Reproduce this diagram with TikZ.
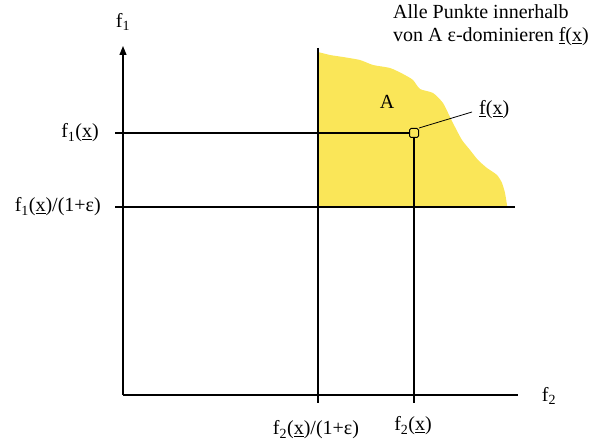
\documentclass[tikz,border=0pt]{standalone}
\usepackage{fontspec}
\setmainfont{Liberation Serif}
\usetikzlibrary{arrows.meta}
\definecolor{regionyellow}{RGB}{250,230,88}
\tikzset{
  lbl/.style={inner sep=0pt,font=\fontsize{20}{23}\selectfont},
  axisline/.style={line width=1.2pt},
  guide/.style={line width=1.1pt},
}
\begin{document}
\begin{tikzpicture}[x=1pt,y=-1pt]
\useasboundingbox (0,0) rectangle (590,444);
% region A
\fill[regionyellow] (318,52) -- plot[smooth,tension=0.4] coordinates {(318,52) (330,55) (343,57) (360,60) (373,65) (390,68) (403,74) (413,80) (420,89) (433,93) (443,103) (450,117) (455,127) (462,140) (470,150) (478,160) (487,168) (497,175) (502,183) (505,193) (507,205)} -- (507,207) -- (318,207) -- cycle;
% coordinates
\coordinate (O) at (123,395);
\coordinate (ytop) at (123,46);
\coordinate (xend) at (518,395);
\coordinate (h1s) at (115,133);
\coordinate (h2s) at (115,207);
\coordinate (h2e) at (515,207);
\coordinate (v1s) at (318,48);
\coordinate (v1e) at (318,403);
\coordinate (v2e) at (414,403);
\coordinate (lead) at (472,112);
% point f(x)
\node[draw,line width=1pt,minimum size=9pt,inner sep=0pt,rounded corners=1.5pt] (fx) at (414,133) {};
% axes
\draw[axisline,-{Triangle[length=9pt,width=7pt]}] (O) -- (ytop);
\draw[axisline] (O) -- (xend);
% guide lines
\draw[guide] (h1s) -- (fx.west);
\draw[guide] (h2s) -- (h2e);
\draw[guide] (v1s) -- (v1e);
\draw[guide] (fx.south) -- (v2e);
\draw[line width=0.8pt] (fx.north east) -- (lead);
% labels
\node[lbl] (lf1) at (123,22) {f\textsubscript{1}};
\node[lbl] (lf2) at (549,396) {f\textsubscript{2}};
\node[lbl] (lA) at (387,102) {A};
\node[lbl,anchor=west] (lfxp) at (479,110) {\underline{f}(\underline{x})};
\node[lbl,anchor=east] (lf1x) at (99,133) {f\textsubscript{1}(\underline{x})};
\node[lbl,anchor=east] (lf1xe) at (101,207) {f\textsubscript{1}(\underline{x})/(1+ε)};
\node[lbl] (lf2xe) at (316,430) {f\textsubscript{2}(\underline{x})/(1+ε)};
\node[lbl] (lf2x) at (413,426) {f\textsubscript{2}(\underline{x})};
\node[lbl,anchor=west,align=left] (note) at (393,25) {Alle Punkte innerhalb\\von A ε-dominieren \underline{f}(\underline{x})};
\end{tikzpicture}
\end{document}
